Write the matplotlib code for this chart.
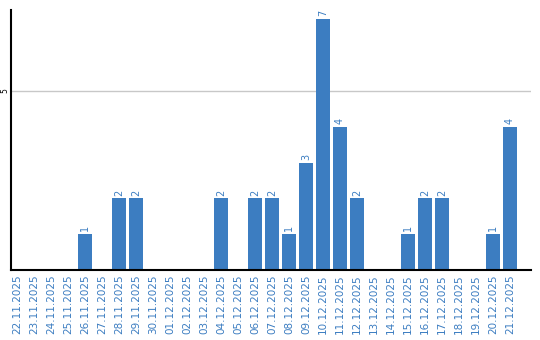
import matplotlib
matplotlib.use("Agg")
import matplotlib.pyplot as plt

dates = ["22.11.2025", "23.11.2025", "24.11.2025", "25.11.2025", "26.11.2025",
         "27.11.2025", "28.11.2025", "29.11.2025", "30.11.2025", "01.12.2025",
         "02.12.2025", "03.12.2025", "04.12.2025", "05.12.2025", "06.12.2025",
         "07.12.2025", "08.12.2025", "09.12.2025", "10.12.2025", "11.12.2025",
         "12.12.2025", "13.12.2025", "14.12.2025", "15.12.2025", "16.12.2025",
         "17.12.2025", "18.12.2025", "19.12.2025", "20.12.2025", "21.12.2025"]
values = [0, 0, 0, 0, 1, 0, 2, 2, 0, 0, 0, 0, 2, 0, 2, 2, 1, 3, 7, 4, 2, 0, 0, 1, 2, 2, 0, 0, 1, 4]
yticks = [5]

blue = "#3c7dc1"
fig = plt.figure(figsize=(5.4, 3.4), dpi=100)
ax = fig.add_axes([10.5/540, 1-270/340, (531-10.5)/540, (270-10)/340])
x = list(range(len(dates)))
ax.bar(x, values, width=0.82, color=blue, zorder=3)
for xi, v in zip(x, values):
    if v > 0:
        ax.text(xi, v + 0.08, str(v), rotation=90, ha="center", va="bottom",
                color=blue, fontsize=7, zorder=4)
ax.set_xlim(-0.38, 30.24)
ax.set_ylim(0, 7.26)
ax.set_yticks(yticks)
ax.set_yticklabels([str(t) for t in yticks], rotation=90, fontsize=5.5, va="center")
ax.set_xticks(x)
ax.set_xticklabels(dates, rotation=90, fontsize=7.5, color=blue)
ax.tick_params(axis="both", length=0, pad=3)
ax.tick_params(axis="y", pad=0.5)
ax.grid(axis="y", color="#c8c8c8", linewidth=1, zorder=0)
for s in ["top", "right"]:
    ax.spines[s].set_visible(False)
for s in ["left", "bottom"]:
    ax.spines[s].set_linewidth(1.5)
    ax.spines[s].set_color("black")
    ax.spines[s].set_zorder(5)
fig.savefig("out.png", dpi=100)
